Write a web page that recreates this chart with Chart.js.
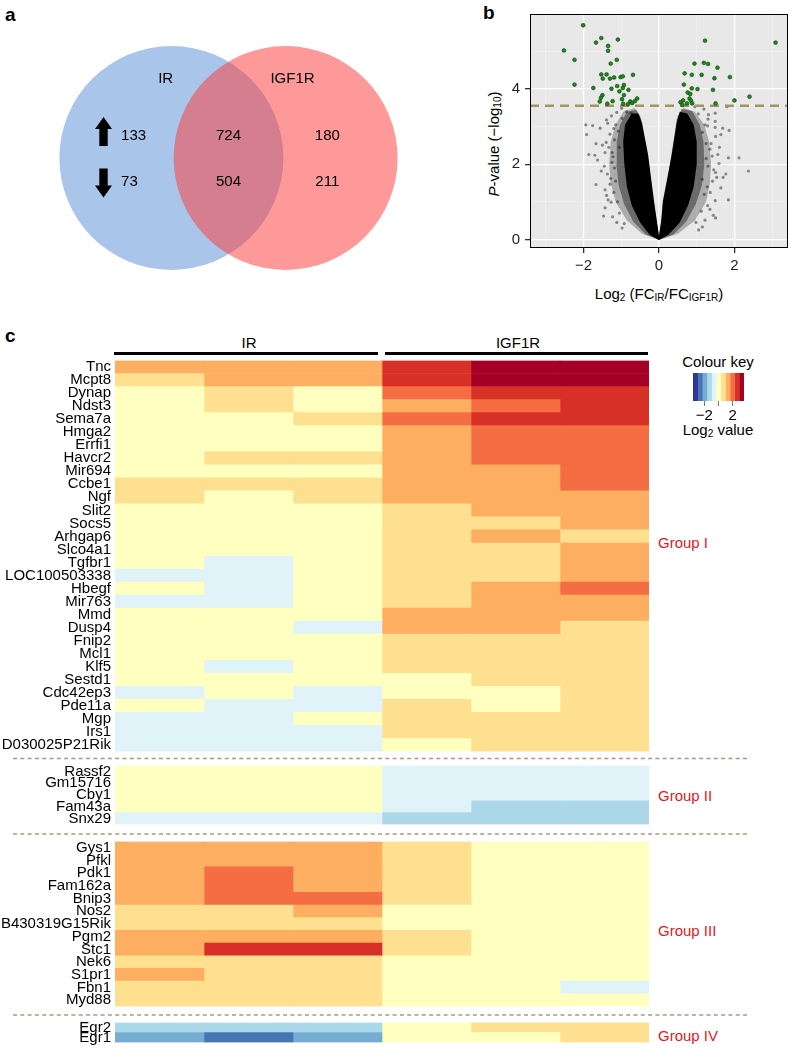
<!DOCTYPE html>
<html>
<head>
<meta charset="utf-8">
<script src="https://cdn.jsdelivr.net/npm/chart.js@4.4.1/dist/chart.umd.min.js"></script>
<style>
body{margin:0;background:#fff;}
#page{position:relative;width:788px;height:1049px;overflow:hidden;font-family:'Liberation Sans',Arial,Helvetica,sans-serif;color:#000;}
canvas{position:absolute;}
.t{position:absolute;white-space:nowrap;font-size:15px;line-height:1;transform:translate(-50%,-50%);}
.panel{position:absolute;font-weight:bold;font-size:19px;line-height:1;}
.bar{position:absolute;height:3px;background:#000;}
.grp{position:absolute;font-size:15px;color:#e3191c;line-height:1;white-space:nowrap;transform:translateY(-50%);}
sub{font-size:10px;vertical-align:-2px;line-height:0;}
svg{position:absolute;left:0;top:0;}
</style>
</head>
<body>
<div id="page">
  <div class="panel" style="left:5px;top:5px;">a</div>
  <div class="panel" style="left:483px;top:3px;">b</div>
  <div class="panel" style="left:5px;top:326px;">c</div>

  <div class="t" style="left:493px;top:144px;transform:translate(-50%,-50%) rotate(-90deg);"><i>P</i>-value (&minus;log<sub>10</sub>)</div>
  <div class="t" style="left:659px;top:293px;">Log<sub>2</sub> (FC<sub>IR</sub>/FC<sub>IGF1R</sub>)</div>

  <div class="t" style="left:249px;top:342px;">IR</div>
  <div class="t" style="left:518px;top:342px;">IGF1R</div>
  <div class="bar" style="left:114px;top:352px;width:264px;"></div>
  <div class="bar" style="left:385px;top:352px;width:263px;"></div>

  <div class="t" style="left:718px;top:361px;">Colour key</div>
  <div class="t" style="left:718px;top:429px;">Log<sub>2</sub> value</div>

  <div class="grp" style="left:658px;top:542px;">Group I</div>
  <div class="grp" style="left:658px;top:795px;">Group II</div>
  <div class="grp" style="left:658px;top:930px;">Group III</div>
  <div class="grp" style="left:658px;top:1035px;">Group IV</div>

  <svg width="788" height="1049">
    <g stroke="#a59d78" stroke-width="1.5" stroke-dasharray="4 3.3">
      <line x1="13" y1="758.5" x2="748" y2="758.5"/>
      <line x1="13" y1="834" x2="748" y2="834"/>
      <line x1="13" y1="1015" x2="748" y2="1015"/>
    </g>
  </svg>
</div>

<script>
// ---------- a: Venn diagram counts
var vennSets = ['IR', 'IGF1R'];
var vennUp = [133, 724, 180];     // IR only, both, IGF1R only
var vennDown = [73, 504, 211];

// ---------- b: volcano plot
var pThreshold = 3.56;
var volcanoXTicks = [-3, -2, -1, 0, 1, 2, 3];
var volcanoYTicks = [0, 1, 2, 3, 4, 5];
var greenPts = [
  [-2.01,5.70],[-2.52,5.03],[-2.24,4.78],[-2.24,4.12],[-1.67,5.24],[-1.53,5.36],[-1.09,5.32],
  [-1.35,5.15],[-1.35,5.02],[-1.12,4.78],[-1.28,4.68],[-1.53,4.39],[-1.39,4.39],[-1.49,4.28],
  [-1.30,4.28],[-1.19,4.31],[-1.02,4.32],[-0.96,4.34],[-0.69,4.38],[-1.74,4.03],[-1.26,4.01],
  [-1.11,4.08],[-0.93,4.11],[-0.96,4.03],[-1.05,3.94],[-0.81,3.98],[-1.50,3.84],[-1.54,3.77],
  [-1.57,3.67],[-1.23,3.68],[-0.98,3.73],[-0.93,3.84],[-1.37,3.61],[-0.76,3.67],[-0.71,3.63],
  [-0.64,3.68],[-0.58,3.75],[-0.82,3.60],[-0.95,3.61],
  [1.22,5.29],[3.09,5.24],[0.94,4.68],[1.19,4.70],[1.30,4.67],[1.55,4.57],[0.68,4.42],[0.87,4.38],
  [1.13,4.38],[1.47,4.29],[1.88,4.32],[0.66,4.12],[0.87,4.02],[1.02,4.00],[1.43,3.98],[0.76,3.91],
  [0.83,3.87],[0.81,3.75],[0.85,3.69],[0.88,3.62],[0.64,3.70],[0.57,3.65],[0.62,3.58],[0.74,3.62],
  [1.50,3.62],[2.00,3.70],[2.40,3.80]
];
var greyPts = [
  [-1.94,3.05],[-1.76,3.03],[-1.92,2.79],[-1.67,2.55],[-1.50,2.51],[-1.40,2.58],[-1.86,2.26],
  [-1.70,2.24],[-1.63,2.11],[-1.43,2.31],[-1.24,2.31],[-1.53,1.82],[-1.37,1.74],[-1.67,1.46],
  [-1.30,1.47],[-1.43,1.32],[-1.39,1.17],[-1.43,0.84],[-1.47,0.62],[-1.23,0.60],[-1.27,0.99],
  [-1.08,2.88],[-1.56,2.96],[-1.36,3.09],[-1.39,3.18],[-1.26,3.29],[-1.12,3.38],[-0.99,3.49],
  [-0.86,3.40],[-0.74,3.36],[-1.18,2.65],[-1.25,2.05],[-1.20,1.25],[-1.05,0.70],[-0.92,0.42],
  [-1.15,3.05],[-0.98,3.22],[-1.30,2.80],[-1.18,1.90],[-1.10,1.00],
  [-1.33,2.45],[-1.22,2.20],[-1.28,1.62],[-1.15,1.55],[-1.35,1.05],[-1.12,0.45],[-0.98,0.30],
  [-1.45,1.95],[-1.05,2.45],[-1.20,2.95],
  [1.86,2.90],[1.69,2.96],[1.50,2.74],[1.64,2.79],[1.29,3.02],[1.49,2.98],[2.12,2.17],[1.84,2.17],
  [2.37,1.82],[1.56,2.26],[1.59,2.02],[1.41,2.22],[1.50,1.78],[1.70,1.65],[1.53,1.65],[1.64,1.37],
  [1.84,1.05],[1.49,1.03],[1.44,0.64],[1.50,0.57],[1.15,0.33],[1.29,0.90],[1.22,0.51],[1.36,1.25],
  [1.77,1.74],[1.19,3.47],[1.31,3.32],[1.49,3.36],[1.80,3.53],[1.49,3.14],[1.04,3.34],[0.95,3.53],
  [1.22,3.05],[1.25,2.55],[1.30,1.95],[1.28,1.40],[1.12,0.75],[0.98,0.45],[1.15,2.85],[1.35,2.40],
  [1.38,2.55],[1.25,2.15],[1.42,1.55],[1.20,1.20],[1.35,0.80],[1.05,0.25],[1.60,2.45],[1.45,1.85],
  [1.15,1.60],[1.30,3.20]
];
// outline of the dense cloud of points: solid core, inner and outer halo
var coreLeft = [[0,-0.02],[-0.25,0.12],[-0.5,0.45],[-0.72,0.9],[-0.85,1.4],[-0.92,2.0],[-0.95,2.6],
  [-0.9,3.05],[-0.72,3.35],[-0.55,3.35],[-0.45,3.1],[-0.29,2.26],[-0.13,1.0],[-0.06,0.5],[0,0.08]];
var coreRight = [[0,-0.02],[0.25,0.12],[0.55,0.45],[0.77,0.9],[0.92,1.4],[1.0,2.0],[1.0,2.6],
  [0.92,3.05],[0.75,3.35],[0.55,3.4],[0.47,3.1],[0.34,2.26],[0.1,1.0],[0.06,0.5],[0,0.08]];
var innerHaloLeft = [[0,-0.02],[-0.35,0.13],[-0.68,0.47],[-0.93,0.95],[-1.07,1.45],[-1.13,2.0],
  [-1.12,2.6],[-1.03,3.05],[-0.85,3.4],[-0.6,3.45],[-0.47,3.2],[0,0.08]];
var innerHaloRight = [[0,-0.02],[0.38,0.13],[0.72,0.47],[0.98,0.95],[1.14,1.45],[1.2,2.0],
  [1.18,2.6],[1.08,3.05],[0.88,3.42],[0.6,3.47],[0.47,3.2],[0,0.08]];
var haloLeft = [[0,-0.02],[-0.45,0.15],[-0.85,0.5],[-1.15,1.0],[-1.28,1.5],[-1.32,2.0],[-1.28,2.6],
  [-1.15,3.05],[-0.95,3.4],[-0.65,3.5],[-0.5,3.3],[-0.45,3.0],[0,0.08]];
var haloRight = [[0,-0.02],[0.5,0.15],[0.95,0.5],[1.25,1.0],[1.35,1.5],[1.38,2.0],[1.33,2.6],
  [1.2,3.05],[0.95,3.4],[0.65,3.5],[0.5,3.3],[0.45,3.0],[0,0.08]];

// ---------- c: heatmap (log2 values, columns IR x3 then IGF1R x3)
var columns = ['IR 1', 'IR 2', 'IR 3', 'IGF1R 1', 'IGF1R 2', 'IGF1R 3'];
var group1Genes = ['Tnc','Mcpt8','Dynap','Ndst3','Sema7a','Hmga2','Errfi1','Havcr2','Mir694','Ccbe1',
  'Ngf','Slit2','Socs5','Arhgap6','Slco4a1','Tgfbr1','LOC100503338','Hbegf','Mir763','Mmd','Dusp4',
  'Fnip2','Mcl1','Klf5','Sestd1','Cdc42ep3','Pde11a','Mgp','Irs1','D030025P21Rik'];
var group1Values = [
  [1.3,1.3,1.3, 2.6,3.3,3.3],
  [0.7,1.3,1.3, 2.6,3.3,3.3],
  [0,0.7,0, 2.0,2.6,2.6],
  [0,0.7,0, 1.3,2.0,2.6],
  [0,0,0.7, 2.0,2.6,2.6],
  [0,0,0, 1.3,2.0,2.0],
  [0,0,0, 1.3,2.0,2.0],
  [0,0.7,0.7, 1.3,2.0,2.0],
  [0,0,0, 1.3,1.3,2.0],
  [0.7,0.7,0.7, 1.3,1.3,2.0],
  [0.7,0,0.7, 1.3,1.3,1.3],
  [0,0,0, 0.7,1.3,1.3],
  [0,0,0, 0.7,0.7,1.3],
  [0,0,0, 0.7,1.3,0.7],
  [0,0,0, 0.7,0.7,1.3],
  [0,-0.7,0, 0.7,0.7,1.3],
  [-0.7,-0.7,0, 0.7,0.7,1.3],
  [0,-0.7,0, 0.7,1.3,2.0],
  [-0.7,-0.7,0, 0.7,1.3,1.3],
  [0,0,0, 1.3,1.3,1.3],
  [0,0,-0.7, 1.3,1.3,0.7],
  [0,0,0, 0.7,0.7,0.7],
  [0,0,0, 0.7,0.7,0.7],
  [0,-0.7,0, 0.7,0.7,0.7],
  [0,0,0, 0,0.7,0.7],
  [-0.7,0,-0.7, 0,0,0.7],
  [0,-0.7,-0.7, 0.7,0,0.7],
  [-0.7,-0.7,0, 0.7,0.7,0.7],
  [-0.7,-0.7,-0.7, 0.7,0.7,0.7],
  [-0.7,-0.7,-0.7, 0,0.7,0.7]
];
var group2Genes = ['Rassf2','Gm15716','Cby1','Fam43a','Snx29'];
var group2Values = [
  [0,0,0, -0.7,-0.7,-0.7],
  [0,0,0, -0.7,-0.7,-0.7],
  [0,0,0, -0.7,-0.7,-0.7],
  [0,0,0, -0.7,-1.3,-1.3],
  [-0.7,-0.7,-0.7, -1.3,-1.3,-1.3]
];
var group3Genes = ['Gys1','Pfkl','Pdk1','Fam162a','Bnip3','Nos2','B430319G15Rik','Pgm2','Stc1',
  'Nek6','S1pr1','Fbn1','Myd88'];
var group3Values = [
  [1.3,1.3,1.3, 0.7,0,0],
  [1.3,1.3,1.3, 0.7,0,0],
  [1.3,2.0,1.3, 0.7,0,0],
  [1.3,2.0,1.3, 0.7,0,0],
  [1.3,2.0,2.0, 0.7,0,0],
  [0.7,0.7,1.3, 0,0,0],
  [0.7,0.7,0.7, 0,0,0],
  [1.3,1.3,1.3, 0.7,0,0],
  [1.3,2.6,2.6, 0.7,0,0],
  [0.7,0.7,0.7, 0,0,0],
  [1.3,0.7,0.7, 0,0,0],
  [0.7,0.7,0.7, 0,0,-0.7],
  [0.7,0.7,0.7, 0,0,0]
];
var group4Genes = ['Egr2','Egr1'];
var group4Values = [
  [-1.3,-1.3,-1.3, 0,0.7,0.7],
  [-2.0,-2.6,-2.0, 0,0,0.7]
];

// colour key (RdYlBu, 11 steps)
var keyBreaks = [-3.6,-2.95,-2.29,-1.64,-0.98,-0.33,0.33,0.98,1.64,2.29,2.95,3.6];
var keyColours = ['#313695','#4575b4','#74add1','#abd9e9','#e0f3f8','#ffffbf',
  '#fee090','#fdae61','#f46d43','#d73027','#a50026'];
var keyTicks = [-2, 0, 2];

// ------------------------------------------------------------
var FONT = "'Liberation Sans', Arial, Helvetica, sans-serif";
Chart.defaults.font.family = FONT;
Chart.defaults.color = '#000';

function makeCanvas(left, top, w, h){
    var c = document.createElement('canvas');
    c.width = w; c.height = h;
    c.style.left = left + 'px'; c.style.top = top + 'px';
    document.getElementById('page').appendChild(c);
    return c;
}
function toXY(pts){
    return pts.map(function(p){ return {x: p[0], y: p[1]}; });
}
function minus(v){
    return v < 0 ? '\u2212' + (-v) : '' + v;
}
function colourFor(v){
    for (var i = 0; i < keyColours.length; i++){
        if (v < keyBreaks[i + 1]) return keyColours[i];
    }
    return keyColours[keyColours.length - 1];
}
var base = {
    responsive: false,
    animation: false,
    events: [],
    plugins: { legend: { display: false }, tooltip: { enabled: false } }
};
function opts(extra){
    return Object.assign({}, base, extra);
}

// ---------- a: Venn
function drawArrow(ctx, cx, cy, dir){
    var h = 14.5, hw = 8.5, sw = 4.2, hl = 12;
    var tip = cy + dir * h, tail = cy - dir * h, neck = tip - dir * hl;
    ctx.beginPath();
    ctx.moveTo(cx, tip);
    ctx.lineTo(cx + hw, neck); ctx.lineTo(cx + sw, neck); ctx.lineTo(cx + sw, tail);
    ctx.lineTo(cx - sw, tail); ctx.lineTo(cx - sw, neck); ctx.lineTo(cx - hw, neck);
    ctx.closePath();
    ctx.fill();
}
var vennText = {
    id: 'vennText',
    afterDatasetsDraw: function(chart){
        var ctx = chart.ctx, x = chart.scales.x, y = chart.scales.y;
        var colX = [-0.94, 0, 0.865];
        ctx.save();
        ctx.font = '15px ' + FONT;
        ctx.fillStyle = '#000';
        ctx.textBaseline = 'middle';
        ctx.textAlign = 'center';
        ctx.fillText(vennSets[0], x.getPixelForValue(-0.55), y.getPixelForValue(0.5));
        ctx.fillText(vennSets[1], x.getPixelForValue(0.56), y.getPixelForValue(0.5));
        for (var i = 0; i < vennUp.length; i++){
            ctx.textAlign = i == 0 ? 'left' : 'center';
            ctx.fillText(vennUp[i], x.getPixelForValue(colX[i]), y.getPixelForValue(0.14));
            ctx.fillText(vennDown[i], x.getPixelForValue(colX[i]), y.getPixelForValue(-0.152));
        }
        drawArrow(ctx, x.getPixelForValue(-1.094), y.getPixelForValue(0.14) - 4.5, -1);
        drawArrow(ctx, x.getPixelForValue(-1.094), y.getPixelForValue(-0.152) + 1, 1);
        ctx.restore();
    }
};
new Chart(makeCanvas(0, 0, 457, 316), {
    type: 'scatter',
    data: {
        datasets: [
            { label: vennSets[1], data: [{x: 0.5, y: 0}], backgroundColor: 'rgba(251,62,62,0.53)',
              pointRadius: 112, borderWidth: 0, clip: false },
            { label: vennSets[0], data: [{x: -0.5, y: 0}], backgroundColor: '#a9c5ea',
              pointRadius: 112, borderWidth: 0, clip: false }
        ]
    },
    options: opts({
        layout: { autoPadding: false, padding: 0 },
        scales: {
            x: { display: false, min: -2, max: 2 },
            y: { display: false, min: -1, max: 1 }
        }
    }),
    plugins: [vennText]
});

// ---------- b: volcano
var panelBox = {
    id: 'panelBox',
    beforeDraw: function(chart){
        var a = chart.chartArea, ctx = chart.ctx;
        ctx.save();
        ctx.fillStyle = '#e8e8e8';
        ctx.fillRect(a.left, a.top, a.right - a.left, a.bottom - a.top);
        ctx.restore();
    },
    afterDraw: function(chart){
        var a = chart.chartArea, ctx = chart.ctx;
        ctx.save();
        ctx.strokeStyle = '#000';
        ctx.lineWidth = 1;
        ctx.strokeRect(a.left + 0.5, a.top + 0.5, a.right - a.left - 1, a.bottom - a.top - 1);
        ctx.restore();
    }
};
function isMajor(c){ return c.tick && c.tick.value % 2 === 0; }
var volGrid = {
    color: function(c){ return isMajor(c) ? '#ffffff' : 'rgba(255,255,255,0.55)'; },
    lineWidth: function(c){ return isMajor(c) ? 1.3 : 0.6; },
    tickLength: 5,
    tickColor: function(c){ return isMajor(c) ? '#333' : 'rgba(0,0,0,0)'; }
};
function cloud(pts, fillColour){
    return { type: 'line', data: toXY(pts), fill: 'shape', backgroundColor: fillColour,
             borderColor: 'rgba(0,0,0,0)', borderWidth: 1, pointRadius: 0 };
}
var xMin = -3.42, xMax = 3.42;
new Chart(makeCanvas(490, 0, 298, 290), {
    type: 'scatter',
    data: {
        datasets: [
            { label: 'significant', data: toXY(greenPts), backgroundColor: '#1d8a1d',
              borderColor: '#0b3f0b', borderWidth: 0.6, pointRadius: 1.9 },
            { type: 'line', label: 'threshold', data: [{x: xMin, y: pThreshold}, {x: xMax, y: pThreshold}],
              borderColor: '#a39560', borderWidth: 2.5, borderDash: [9, 6], pointRadius: 0, fill: false },
            { label: 'other', data: toXY(greyPts), backgroundColor: 'rgba(0,0,0,0.42)',
              borderWidth: 0, pointRadius: 1.6 },
            cloud(coreLeft, '#000'),
            cloud(coreRight, '#000'),
            cloud(innerHaloLeft, 'rgba(0,0,0,0.38)'),
            cloud(innerHaloRight, 'rgba(0,0,0,0.38)'),
            cloud(haloLeft, 'rgba(0,0,0,0.26)'),
            cloud(haloRight, 'rgba(0,0,0,0.26)')
        ]
    },
    options: opts({
        layout: { autoPadding: false, padding: { top: 12, right: 0, left: 0, bottom: 0 } },
        scales: {
            x: {
                type: 'linear', min: xMin, max: xMax,
                afterBuildTicks: function(s){ s.ticks = volcanoXTicks.map(function(v){ return {value: v}; }); },
                grid: volGrid,
                border: { display: false },
                ticks: { color: '#222', font: { size: 15 }, padding: 4, maxRotation: 0, autoSkip: false,
                         callback: function(v){ return v % 2 === 0 ? minus(v) : ''; } },
                afterFit: function(s){ s.height = 42; }
            },
            y: {
                type: 'linear', min: -0.23, max: 6.0,
                afterBuildTicks: function(s){ s.ticks = volcanoYTicks.map(function(v){ return {value: v}; }); },
                grid: volGrid,
                border: { display: false },
                ticks: { color: '#222', font: { size: 15 }, padding: 5, autoSkip: false,
                         callback: function(v){ return v % 2 === 0 ? minus(v) : ''; } },
                afterFit: function(s){ s.width = 40; }
            }
        }
    }),
    plugins: [panelBox]
});

// ---------- c: heatmap, one chart per group
var rowH = 13.25;
function heatmap(genes, values, top){
    var pad = 7;
    var h = Math.round(genes.length * rowH + 2 * pad);
    var datasets = columns.map(function(col, j){
        return {
            label: col,
            data: genes.map(function(){ return 1; }),
            backgroundColor: values.map(function(row){ return colourFor(row[j]); }),
            borderWidth: 0,
            barPercentage: 1,
            categoryPercentage: 1
        };
    });
    new Chart(makeCanvas(0, top - pad, 649, h), {
        type: 'bar',
        data: { labels: genes, datasets: datasets },
        options: opts({
            indexAxis: 'y',
            layout: { autoPadding: false, padding: { top: pad, bottom: pad, left: 0, right: 0 } },
            scales: {
                x: { stacked: true, display: false, min: 0, max: columns.length },
                y: {
                    stacked: true,
                    grid: { display: false, drawTicks: false },
                    border: { display: false },
                    ticks: { autoSkip: false, padding: 4, color: '#000',
                             font: { size: 15, lineHeight: '13px' } },
                    afterFit: function(s){ s.width = 115; }
                }
            }
        })
    });
}
heatmap(group1Genes, group1Values, 357);
heatmap(group2Genes, group2Values, 762);
heatmap(group3Genes, group3Values, 838);
heatmap(group4Genes, group4Values, 1019);

// ---------- colour key
new Chart(makeCanvas(680, 373, 80, 60), {
    type: 'bar',
    data: {
        labels: ['key'],
        datasets: keyColours.map(function(c, i){
            return { data: [[keyBreaks[i], keyBreaks[i + 1]]], backgroundColor: c, borderWidth: 0,
                     grouped: false, barPercentage: 1, categoryPercentage: 1 };
        })
    },
    options: opts({
        indexAxis: 'y',
        layout: { autoPadding: false, padding: { left: 13, right: 16, top: 0, bottom: 0 } },
        scales: {
            x: {
                type: 'linear', min: keyBreaks[0], max: keyBreaks[keyBreaks.length - 1],
                afterBuildTicks: function(s){ s.ticks = keyTicks.map(function(v){ return {value: v}; }); },
                grid: { drawOnChartArea: false, tickLength: 5, color: '#777' },
                border: { display: false },
                ticks: { font: { size: 15 }, padding: 1, maxRotation: 0, autoSkip: false,
                         callback: function(v){ return v === 0 ? '' : minus(v); } },
                afterFit: function(s){ s.height = 32; }
            },
            y: { display: false }
        }
    })
});
</script>
</body>
</html>
